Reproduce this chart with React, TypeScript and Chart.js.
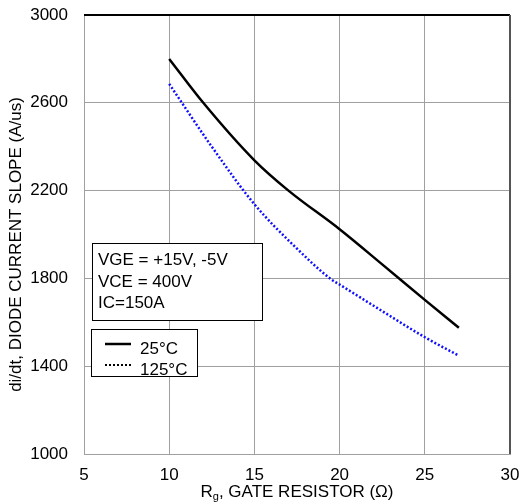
import { useEffect, useRef } from 'react';
import { Chart, registerables } from 'chart.js';

Chart.register(...registerables);

const rg25 = [10, 12, 15, 17, 20, 22.5, 25, 27];
const slope25 = [2800, 2600, 2338, 2200, 2024, 1864, 1702, 1575];
const rg125 = [10, 12.5, 15, 17.4, 19.5, 20, 22.5, 25, 27];
const slope125 = [2686, 2400, 2138, 1943, 1796, 1772, 1651, 1532, 1448];
const xMin = 5;
const xMax = 30;
const xStep = 5;
const yMin = 1000;
const yMax = 3000;
const yStep = 400;
const seriesLabels = ['25°C', '125°C'];
const conditionLines = ['VGE = +15V, -5V', 'VCE = 400V', 'IC=150A'];
const yTitle = 'di/dt, DIODE CURRENT SLOPE (A/us)';
const xTitleMain = 'R';
const xTitleSub = 'g';
const xTitleRest = ', GATE RESISTOR (Ω)';

const FONT = '"Liberation Sans", Arial, sans-serif';

const overlayPlugin = {
  id: 'overlay',
  afterDraw(chart: any) {
    const ctx = chart.ctx as CanvasRenderingContext2D;
    const a = chart.chartArea;
    ctx.save();
    // borders
    ctx.strokeStyle = '#000';
    ctx.lineWidth = 2;
    ctx.beginPath();
    ctx.moveTo(a.left, a.top);
    ctx.lineTo(a.right, a.top);
    ctx.stroke();
    ctx.strokeStyle = '#555';
    ctx.beginPath();
    ctx.moveTo(a.right, a.top);
    ctx.lineTo(a.right, a.bottom);
    ctx.stroke();

    // conditions box
    ctx.fillStyle = '#fff';
    ctx.strokeStyle = '#000';
    ctx.lineWidth = 1;
    ctx.fillRect(92, 243, 170, 78);
    ctx.strokeRect(92.5, 243.5, 170, 77);
    ctx.fillStyle = '#000';
    ctx.font = `17px ${FONT}`;
    ctx.textBaseline = 'alphabetic';
    ctx.textAlign = 'left';
    conditionLines.forEach((t, i) => ctx.fillText(t, 98, 265 + i * 21.5));

    // legend box
    ctx.fillStyle = '#fff';
    ctx.fillRect(91, 329, 106, 48);
    ctx.strokeRect(91.5, 329.5, 106, 47);
    ctx.strokeStyle = '#000';
    ctx.lineWidth = 2.5;
    ctx.beginPath();
    ctx.moveTo(105, 344);
    ctx.lineTo(131, 344);
    ctx.stroke();
    ctx.setLineDash([2, 2]);
    ctx.lineWidth = 2;
    ctx.beginPath();
    ctx.moveTo(105, 365);
    ctx.lineTo(131, 365);
    ctx.stroke();
    ctx.setLineDash([]);
    ctx.fillStyle = '#000';
    ctx.fillText(seriesLabels[0], 140, 354);
    ctx.fillText(seriesLabels[1], 140, 375);

    // y title
    ctx.save();
    ctx.translate(21, (a.top + a.bottom) / 2 + 10);
    ctx.rotate(-Math.PI / 2);
    ctx.textAlign = 'center';
    ctx.textBaseline = 'alphabetic';
    ctx.font = `17px ${FONT}`;
    ctx.fillText(yTitle, 0, 0);
    ctx.restore();

    // x title with subscript
    ctx.font = `17px ${FONT}`;
    const wMain = ctx.measureText(xTitleMain).width;
    const wRest = ctx.measureText(xTitleRest).width;
    ctx.font = `11px ${FONT}`;
    const wSub = ctx.measureText(xTitleSub).width;
    const total = wMain + wSub + wRest;
    let x = (a.left + a.right) / 2 - total / 2;
    const y = 497;
    ctx.textAlign = 'left';
    ctx.font = `17px ${FONT}`;
    ctx.fillText(xTitleMain, x, y);
    x += wMain;
    ctx.font = `11px ${FONT}`;
    ctx.fillText(xTitleSub, x, y + 3);
    x += wSub;
    ctx.font = `17px ${FONT}`;
    ctx.fillText(xTitleRest, x, y);
    ctx.restore();
  },
};

export default function App() {
  const ref = useRef<HTMLCanvasElement | null>(null);
  useEffect(() => {
    if (!ref.current) return;
    const chart = new Chart(ref.current, {
      type: 'line',
      data: {
        datasets: [
          {
            label: seriesLabels[0],
            data: rg25.map((x, i) => ({ x, y: slope25[i] })),
            borderColor: '#000',
            borderWidth: 2.5,
            pointRadius: 0,
            cubicInterpolationMode: 'monotone',
            fill: false,
          },
          {
            label: seriesLabels[1],
            data: rg125.map((x, i) => ({ x, y: slope125[i] })),
            borderColor: '#1010ff',
            borderWidth: 2.5,
            borderDash: [2, 2],
            pointRadius: 0,
            cubicInterpolationMode: 'monotone',
            fill: false,
          },
        ],
      },
      options: {
        responsive: false,
        animation: false,
        devicePixelRatio: 1,
        layout: { padding: { left: 0, right: 21, top: 15, bottom: 0 } },
        plugins: { legend: { display: false }, tooltip: { enabled: false } },
        scales: {
          x: {
            type: 'linear',
            min: xMin,
            max: xMax,
            ticks: { stepSize: xStep, color: '#000', font: { family: FONT, size: 17 }, padding: 11, maxRotation: 0 },
            grid: { color: '#a0a0a0', lineWidth: 1, drawTicks: false },
            border: { color: '#a0a0a0', width: 1 },
            afterFit: (s: any) => { s.height = 50; s.paddingLeft = 0; s.paddingRight = 0; },
          },
          y: {
            type: 'linear',
            min: yMin,
            max: yMax,
            ticks: {
              stepSize: yStep,
              color: '#000',
              font: { family: FONT, size: 17 },
              padding: 16,
              callback: (v: any) => String(v),
            },
            grid: { color: '#a0a0a0', lineWidth: 1, drawTicks: false },
            border: { color: '#a0a0a0', width: 1 },
            afterFit: (s: any) => { s.width = 84; s.paddingTop = 0; s.paddingBottom = 0; },
          },
        },
      },
      plugins: [overlayPlugin],
    });
    return () => chart.destroy();
  }, []);
  return (
    <div style={{ position: 'absolute', left: 0, top: 0, width: 531, height: 504, background: '#fff' }}>
      <canvas ref={ref} width={531} height={504} />
    </div>
  );
}
